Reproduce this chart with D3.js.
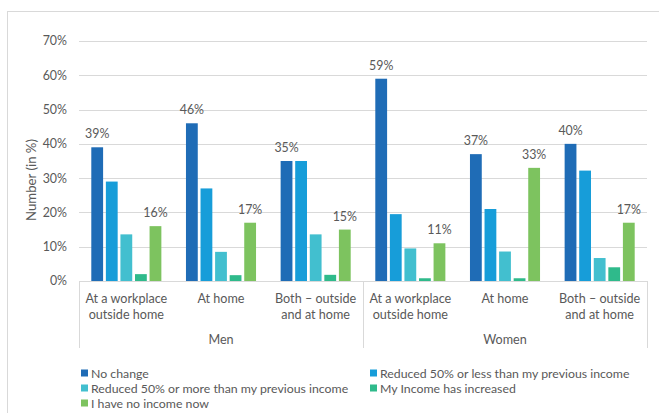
<!DOCTYPE html>
<html>
<head>
<meta charset="utf-8">
<script src="https://cdn.jsdelivr.net/npm/d3@7/dist/d3.min.js"></script>
<style>
  html, body { margin: 0; padding: 0; background: #fff; }
  svg { display: block; font-family: Lato, "Open Sans", sans-serif; }
</style>
</head>
<body>
<svg id="chart" width="659" height="413"></svg>
<script>
// Work location groups and sub-categories
const groups = ["Men", "Women"];
const places = [
  ["At a workplace", "outside home"],
  ["At home"],
  ["Both \u2013 outside", "and at home"]
];
const categories = [
  "Men|workplace", "Men|home", "Men|both",
  "Women|workplace", "Women|home", "Women|both"
];

// Income change series (percent of respondents)
const seriesNames = [
  "No change",
  "Reduced 50% or less than my previous income",
  "Reduced 50% or more than my previous income",
  "My Income has increased",
  "I have no income now"
];
const noChange      = [39, 46, 35, 59, 37, 40];
const reducedLess   = [29, 27, 35, 19.5, 21, 32.2];
const reducedMore   = [13.6, 8.5, 13.6, 9.5, 8.6, 6.7];
const increased     = [2, 1.7, 1.8, 0.8, 0.8, 4];
const noIncome      = [16, 17, 15, 11, 33, 17];
const seriesValues = [noChange, reducedLess, reducedMore, increased, noIncome];
const labelledSeries = [0, 4];

const colors = ["#1f6cb6", "#179dd9", "#42bfcf", "#2fba8b", "#7dc35f"];
const yTicks = [0, 10, 20, 30, 40, 50, 60, 70];

const svg = d3.select("#chart");
const textColor = "#595959";
const lineColor = "#d9d9d9";
const labelSize = "12.6px";
const legendSize = "12.3px";

// outer chart frame
svg.append("rect")
  .attr("x", 7.5).attr("y", 11.5)
  .attr("width", 700).attr("height", 500)
  .attr("fill", "none").attr("stroke", lineColor);

const plot = { left: 79, right: 647, top: 41, bottom: 281 };

const x = d3.scaleBand()
  .domain(categories)
  .range([plot.left, plot.right]);

const xInner = d3.scaleBand()
  .domain(d3.range(seriesNames.length))
  .range([12.3, x.bandwidth() - 12.3])
  .paddingInner(0.19);

const y = d3.scaleLinear()
  .domain([0, 70])
  .range([plot.bottom, plot.top]);

// gridlines
svg.append("g")
  .selectAll("line")
  .data(yTicks.filter(t => t > 0))
  .join("line")
  .attr("x1", plot.left).attr("x2", plot.right)
  .attr("y1", d => Math.round(y(d)) + 0.5)
  .attr("y2", d => Math.round(y(d)) + 0.5)
  .attr("stroke", lineColor);

// y axis tick labels
const yAxis = d3.axisLeft(y).tickValues(yTicks).tickFormat(d => d + "%").tickSize(0).tickPadding(12);
const yg = svg.append("g").attr("transform", `translate(${plot.left},0)`).call(yAxis);
yg.attr("font-family", null).attr("font-size", null);
yg.select(".domain").remove();
yg.selectAll("text")
  .attr("fill", textColor)
  .style("font-size", "12.4px");

// y axis title
svg.append("text")
  .attr("transform", "translate(36,180) rotate(-90)")
  .attr("text-anchor", "middle")
  .attr("fill", textColor)
  .style("font-size", "13.2px")
  .text("Number (in %)");

// bars with value labels on the first and last series
const barG = svg.append("g");
categories.forEach((cat, ci) => {
  seriesValues.forEach((vals, si) => {
    barG.append("rect")
      .attr("x", x(cat) + xInner(si))
      .attr("y", y(vals[ci]))
      .attr("width", xInner.bandwidth())
      .attr("height", y(0) - y(vals[ci]))
      .attr("fill", colors[si]);
  });
  labelledSeries.forEach(si => {
    svg.append("text")
      .attr("x", x(cat) + xInner(si) + xInner.bandwidth() / 2)
      .attr("y", y(seriesValues[si][ci]) - 9)
      .attr("text-anchor", "middle")
      .attr("fill", textColor)
      .style("font-size", "12.4px")
      .text(Math.round(seriesValues[si][ci]) + "%");
  });
});

// category axis
svg.append("line")
  .attr("x1", plot.left).attr("x2", plot.right)
  .attr("y1", plot.bottom + 0.5).attr("y2", plot.bottom + 0.5)
  .attr("stroke", lineColor);

const groupEdges = [plot.left, (plot.left + plot.right) / 2, plot.right];
svg.append("g").selectAll("line")
  .data(groupEdges)
  .join("line")
  .attr("x1", d => Math.round(d) + 0.5).attr("x2", d => Math.round(d) + 0.5)
  .attr("y1", plot.bottom).attr("y2", 348)
  .attr("stroke", lineColor);

categories.forEach((cat, ci) => {
  const lines = places[ci % 3];
  const t = svg.append("text")
    .attr("text-anchor", "middle")
    .attr("fill", textColor)
    .style("font-size", labelSize);
  lines.forEach((ln, li) => {
    t.append("tspan")
      .attr("x", x(cat) + x.bandwidth() / 2)
      .attr("y", 302.5 + li * 16.5)
      .text(ln);
  });
});

groups.forEach((g, gi) => {
  svg.append("text")
    .attr("x", (groupEdges[gi] + groupEdges[gi + 1]) / 2)
    .attr("y", 343.5)
    .attr("text-anchor", "middle")
    .attr("fill", textColor)
    .style("font-size", labelSize)
    .text(g);
});

// legend
const legendPos = [
  [81, 373], [370, 373],
  [81, 388], [370, 388],
  [81, 403]
];
seriesNames.forEach((name, si) => {
  const [lx, ly] = legendPos[si];
  svg.append("rect")
    .attr("x", lx).attr("y", ly - 3.5)
    .attr("width", 7).attr("height", 7)
    .attr("fill", colors[si]);
  svg.append("text")
    .attr("x", lx + 10).attr("y", ly + 4.5)
    .attr("fill", textColor)
    .style("font-size", legendSize)
    .text(name);
});
</script>
</body>
</html>
